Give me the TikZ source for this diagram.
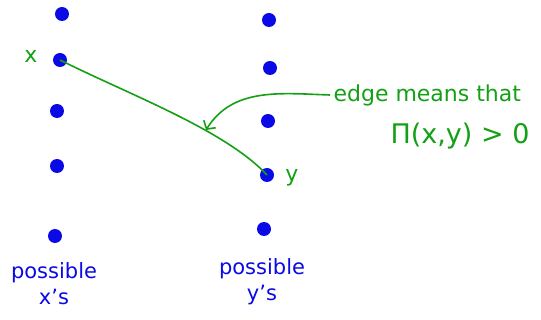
\documentclass[tikz,border=0pt]{standalone}
\usepackage{xcolor}
\usepackage{amsmath}
\usepackage{fontspec}
\setmainfont{DejaVu Sans}
\usepackage{tikz}
\usetikzlibrary{arrows.meta, positioning}

\definecolor{dotblue}{RGB}{10,10,230}
\definecolor{penggreen}{RGB}{20,160,20}

\begin{document}
\begin{tikzpicture}[x=1pt, y=-1pt,
    pt/.style={circle, fill=dotblue, inner sep=0pt, minimum size=14pt},
    bluetext/.style={text=dotblue, font=\fontsize{21}{26}\selectfont, align=center},
    greentext/.style={text=penggreen, font=\fontsize{22}{26}\selectfont}]

  \useasboundingbox (0,0) rectangle (541,320);

  \node[pt] (x1) at (62,14) {};
  \node[pt] (x2) at (60,60) {};
  \node[pt] (x3) at (57,111) {};
  \node[pt] (x4) at (57,166) {};
  \node[pt] (x5) at (55,236) {};

  \node[pt] (y1) at (269,20) {};
  \node[pt] (y2) at (270,68) {};
  \node[pt] (y3) at (268,121) {};
  \node[pt] (y4) at (267,175) {};
  \node[pt] (y5) at (264,229) {};

  \node[greentext] (xlabel) at (31,56) {x};
  \node[greentext] (ylabel) at (292,178) {y};

  \node[bluetext] (xs) at (54,284) {possible\\x's};
  \node[bluetext] (ys) at (262,282) {possible\\y's};

  \node[greentext, anchor=west] (means) at (330,95) {edge means that};
  \node[greentext, font=\fontsize{27}{30}\selectfont] (prob) at (460,136) {Π(x,y) > 0};

  \draw[penggreen, line width=1.6pt]
    (x2.center) .. controls (130,95) and (225,130) .. (y4.center);
  \draw[penggreen, line width=1.6pt, -{Straight Barb[length=6pt, width=14pt]}]
    (means.west) to[out=178, in=58] (206,130);

\end{tikzpicture}
\end{document}
